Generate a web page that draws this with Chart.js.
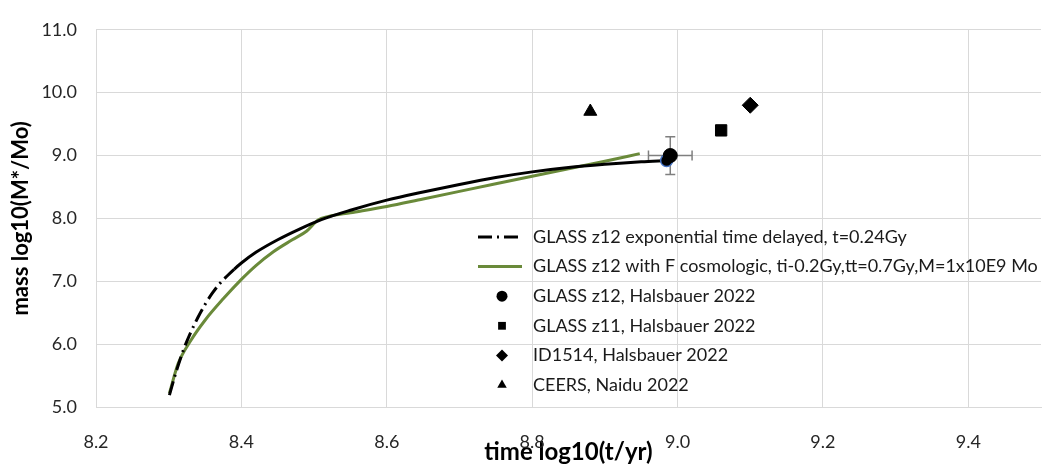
<!DOCTYPE html>
<html>
<head>
<meta charset="utf-8">
<script src="https://cdn.jsdelivr.net/npm/chart.js@4.4.0/dist/chart.umd.min.js"></script>
<style>
  html, body { margin: 0; padding: 0; background: #fff; }
  #wrap { width: 1050px; height: 467px; }
</style>
</head>
<body>
<div id="wrap"><canvas id="chart"></canvas></div>
<script>
// axis ticks
const xTicks = [8.2, 8.4, 8.6, 8.8, 9.0, 9.2, 9.4];
const yTicks = [5, 6, 7, 8, 9, 10, 11];

// GLASS z12 exponential time delayed, t=0.24Gy
const delayedT = [8.301, 8.31, 8.32, 8.33, 8.34, 8.35, 8.36, 8.37, 8.38, 8.39, 8.40, 8.42, 8.45, 8.48, 8.51, 8.55, 8.60, 8.65, 8.70, 8.75, 8.80, 8.85, 8.90, 8.95, 8.985];
const delayedM = [5.19, 5.55, 5.90, 6.18, 6.42, 6.63, 6.81, 6.96, 7.08, 7.19, 7.29, 7.46, 7.66, 7.83, 7.98, 8.13, 8.29, 8.42, 8.54, 8.65, 8.74, 8.81, 8.86, 8.90, 8.92];

// GLASS z12 with F cosmologic
const cosmoT = [8.301, 8.313, 8.33, 8.35, 8.375, 8.40, 8.42, 8.444, 8.47, 8.49, 8.505, 8.52, 8.55, 8.60, 8.65, 8.70, 8.75, 8.80, 8.85, 8.90, 8.948];
const cosmoM = [5.22, 5.69, 6.05, 6.38, 6.72, 7.03, 7.25, 7.47, 7.66, 7.80, 7.97, 8.03, 8.09, 8.19, 8.31, 8.43, 8.55, 8.67, 8.79, 8.91, 9.03];

// observed galaxies
const glassZ12T = [8.99];
const glassZ12M = [9.0];
const glassZ12TErr = [0.03];
const glassZ12MErr = [0.3];
const glassZ11T = [9.06];
const glassZ11M = [9.4];
const id1514T = [9.1];
const id1514M = [9.8];
const ceersT = [8.88];
const ceersM = [9.7];

const labels = [
  "GLASS z12 exponential time delayed, t=0.24Gy",
  "GLASS z12 with F cosmologic, ti-0.2Gy,tt=0.7Gy,M=1x10E9 Mo",
  "GLASS z12, Halsbauer 2022",
  "GLASS z11, Halsbauer 2022",
  "ID1514, Halsbauer 2022",
  "CEERS, Naidu 2022"
];

const pts = (xs, ys) => xs.map((x, i) => ({ x: x, y: ys[i] }));
const FONT = 'Lato, "Noto Sans", sans-serif';
const GREEN = "#6a8a3a";
const DASH = [14, 5, 2, 5];

// Excel style error bars on GLASS z12
const errorBars = {
  id: "errorBars",
  beforeDatasetsDraw(chart) {
    const ctx = chart.ctx;
    const xs = chart.scales.x, ys = chart.scales.y;
    ctx.save();
    ctx.strokeStyle = "#7f7f7f";
    ctx.lineWidth = 1.5;
    glassZ12T.forEach((t, i) => {
      const m = glassZ12M[i];
      const px = xs.getPixelForValue(t), py = ys.getPixelForValue(m);
      const x0 = xs.getPixelForValue(t - glassZ12TErr[i]), x1 = xs.getPixelForValue(t + glassZ12TErr[i]);
      const y0 = ys.getPixelForValue(m - glassZ12MErr[i]), y1 = ys.getPixelForValue(m + glassZ12MErr[i]);
      ctx.beginPath();
      ctx.moveTo(x0, py); ctx.lineTo(x1, py);
      ctx.moveTo(x0, py - 5); ctx.lineTo(x0, py + 5);
      ctx.moveTo(x1, py - 5); ctx.lineTo(x1, py + 5);
      ctx.moveTo(px, y0); ctx.lineTo(px, y1);
      ctx.moveTo(px - 5, y0); ctx.lineTo(px + 5, y0);
      ctx.moveTo(px - 5, y1); ctx.lineTo(px + 5, y1);
      ctx.stroke();
    });
    ctx.restore();
  }
};

// legend sitting inside the plot like the Excel one
const insideLegend = {
  id: "insideLegend",
  afterDraw(chart) {
    const ctx = chart.ctx;
    const x0 = 478, textX = 533, top = 237, step = 29.6;
    ctx.save();
    ctx.font = "18px " + FONT;
    ctx.textBaseline = "middle";
    ctx.fillStyle = "#1a1a1a";
    chart.data.datasets.forEach((ds, i) => {
      const y = top + i * step;
      if (ds.showLine) {
        ctx.save();
        ctx.strokeStyle = ds.borderColor;
        ctx.lineWidth = 3;
        ctx.setLineDash(ds.borderDash || []);
        ctx.beginPath();
        ctx.moveTo(x0, y);
        ctx.lineTo(x0 + 44, y);
        ctx.stroke();
        ctx.restore();
      } else {
        ctx.save();
        ctx.fillStyle = ds.pointBackgroundColor;
        ctx.strokeStyle = ds.pointBackgroundColor;
        Chart.helpers.drawPoint(ctx, { pointStyle: ds.pointStyle, radius: ds.pointStyle === "rectRot" ? 6 : 5.5, rotation: 0, borderWidth: 0 }, x0 + 24, y);
        ctx.restore();
      }
      ctx.fillText(ds.label, textX, y);
    });
    ctx.restore();
  }
};

const lastIdx = delayedT.length - 1;

new Chart(document.getElementById("chart"), {
  type: "scatter",
  data: {
    datasets: [
      {
        label: labels[0],
        data: pts(delayedT, delayedM),
        showLine: true,
        borderColor: "#000",
        borderWidth: 3,
        borderDash: DASH,
        cubicInterpolationMode: "monotone",
        pointRadius: ctx => ctx.dataIndex === lastIdx ? 6 : 0,
        pointBackgroundColor: "#000",
        pointBorderColor: "#4472c4",
        pointBorderWidth: 1.5,
        segment: { borderDash: ctx => ctx.p0.parsed.x < 8.385 ? DASH : [] },
        order: 2
      },
      {
        label: labels[1],
        data: pts(cosmoT, cosmoM),
        showLine: true,
        borderColor: GREEN,
        borderWidth: 3,
        cubicInterpolationMode: "monotone",
        pointRadius: 0,
        order: 3
      },
      {
        label: labels[2],
        data: pts(glassZ12T, glassZ12M),
        pointStyle: "circle",
        pointRadius: 7,
        pointBackgroundColor: "#000",
        pointBorderColor: "#000",
        order: 0
      },
      {
        label: labels[3],
        data: pts(glassZ11T, glassZ11M),
        pointStyle: "rect",
        pointRadius: 8,
        pointBackgroundColor: "#000",
        pointBorderColor: "#000",
        order: 0
      },
      {
        label: labels[4],
        data: pts(id1514T, id1514M),
        pointStyle: "rectRot",
        pointRadius: 8,
        pointBackgroundColor: "#000",
        pointBorderColor: "#000",
        order: 0
      },
      {
        label: labels[5],
        data: pts(ceersT, ceersM),
        pointStyle: "triangle",
        pointRadius: 7.5,
        pointBackgroundColor: "#000",
        pointBorderColor: "#000",
        order: 0
      }
    ]
  },
  options: {
    responsive: true,
    maintainAspectRatio: false,
    animation: false,
    layout: { padding: { top: 23, right: 9, left: 0, bottom: 0 } },
    plugins: {
      legend: { display: false },
      tooltip: { enabled: false }
    },
    scales: {
      x: {
        type: "linear",
        min: 8.2,
        max: 9.5,
        afterBuildTicks: s => { s.ticks = xTicks.map(v => ({ value: v })); },
        afterFit: s => { s.height = 60; },
        grid: { color: "#d9d9d9", lineWidth: 1, drawTicks: false },
        border: { color: "#d9d9d9" },
        ticks: {
          padding: 24,
          color: "#262626",
          font: { family: FONT, size: 18 },
          callback: v => v.toFixed(1)
        },
        title: {
          display: true,
          text: "time log10(t/yr)",
          color: "#000",
          font: { family: FONT, size: 24, weight: "bold" },
          padding: { top: 0, bottom: 0 }
        }
      },
      y: {
        type: "linear",
        min: 5,
        max: 11,
        afterBuildTicks: s => { s.ticks = yTicks.map(v => ({ value: v })); },
        afterFit: s => { s.width = 96; },
        grid: { color: "#d9d9d9", lineWidth: 1, drawTicks: false },
        border: { color: "#d9d9d9" },
        ticks: {
          padding: 19,
          color: "#262626",
          font: { family: FONT, size: 18 },
          callback: v => v.toFixed(1)
        },
        title: {
          display: true,
          text: "mass log10(M*/Mo)",
          color: "#000",
          font: { family: FONT, size: 22, weight: "bold" },
          padding: { top: 8, bottom: 0 }
        }
      }
    }
  },
  plugins: [errorBars, insideLegend]
});
</script>
</body>
</html>
